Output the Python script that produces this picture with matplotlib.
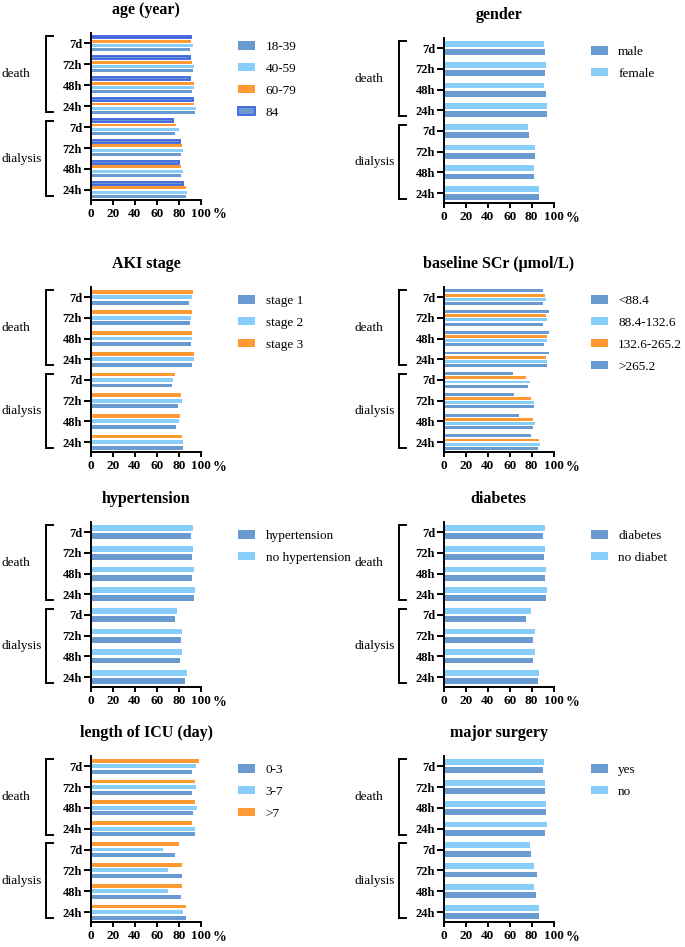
import matplotlib
matplotlib.use("Agg")
import matplotlib.pyplot as plt
import matplotlib.transforms as mtransforms
import numpy as np

plt.rcParams['font.family'] = ['Liberation Serif', 'DejaVu Serif']

# ---------------- data ----------------
categories = ["7d", "72h", "48h", "24h", "7d", "72h", "48h", "24h"]
groups = ["death", "dialysis"]

age_labels = ["18-39", "40-59", "60-79", "84"]
age_18_39 = [90.0, 92.7, 91.8, 94.8, 76.7, 81.8, 81.8, 86.7]
age_40_59 = [93.0, 94.0, 94.0, 95.8, 79.7, 83.9, 83.9, 87.6]
age_60_79 = [91.0, 91.8, 94.0, 94.0, 77.6, 82.7, 81.8, 86.7]
age_84 = [90.9, 89.7, 89.7, 92.7, 74.8, 80.9, 79.7, 83.9]

gender_labels = ["male", "female"]
gender_male = [92.1, 92.1, 93.0, 94.2, 77.8, 83.0, 82.0, 86.9]
gender_female = [91.2, 93.0, 91.2, 94.2, 76.9, 83.0, 82.0, 86.9]

aki_labels = ["stage 1", "stage 2", "stage 3"]
aki_stage1 = [88.8, 89.7, 90.9, 91.8, 73.6, 78.8, 77.6, 83.6]
aki_stage2 = [91.8, 90.9, 91.8, 94.0, 74.5, 82.7, 79.7, 83.6]
aki_stage3 = [92.7, 91.8, 91.8, 94.0, 76.7, 81.8, 80.9, 82.7]

scr_labels = ["<88.4", "88.4-132.6", "132.6-265.2", ">265.2"]
scr_lt88 = [90.0, 90.0, 91.2, 93.9, 76.9, 82.0, 81.2, 86.0]
scr_88_132 = [93.0, 93.9, 93.9, 93.9, 78.1, 82.0, 83.0, 88.1]
scr_132_265 = [92.1, 93.0, 93.9, 93.0, 75.0, 79.9, 81.2, 86.9]
scr_gt265 = [90.0, 96.0, 96.0, 96.0, 62.9, 64.1, 68.1, 79.9]

htn_labels = ["hypertension", "no hypertension"]
htn_yes = [90.9, 91.8, 91.8, 94.0, 76.7, 81.8, 80.6, 85.8]
htn_no = [92.7, 92.7, 94.0, 94.8, 78.5, 82.7, 82.7, 87.6]

dm_labels = ["diabetes", "no diabet"]
dm_yes = [90.0, 91.2, 92.1, 93.0, 75.0, 81.2, 81.2, 86.0]
dm_no = [92.1, 92.1, 93.0, 94.2, 79.0, 83.0, 83.0, 86.9]

icu_labels = ["0-3", "3-7", ">7"]
icu_0_3 = [91.8, 91.8, 92.7, 94.8, 76.7, 82.7, 81.8, 86.7]
icu_3_7 = [95.8, 95.8, 96.7, 94.8, 65.8, 69.7, 69.7, 83.6]
icu_gt7 = [97.9, 94.8, 94.8, 91.8, 79.7, 82.7, 82.7, 86.7]

surg_labels = ["yes", "no"]
surg_yes = [90.0, 92.1, 93.0, 92.1, 79.0, 85.1, 83.9, 86.9]
surg_no = [91.2, 92.1, 93.0, 94.2, 78.1, 82.0, 82.0, 86.9]

xticks = [0, 20, 40, 60, 80, 100]

# ---------------- styles ----------------
STEEL = "#6A9BD0"
LIGHT = "#87CEFA"
ORANGE = "#FF9933"
ROYAL = "#3F62E0"

W, H = 685, 947
fig = plt.figure(figsize=(W / 100, H / 100), dpi=100)

panels = [
    ("age (year)", age_labels, [age_18_39, age_40_59, age_60_79, age_84],
     [(STEEL, STEEL), (LIGHT, LIGHT), (ORANGE, ORANGE), (STEEL, ROYAL)], (91, 33, 201, 200)),
    ("gender", gender_labels, [gender_male, gender_female],
     [(STEEL, STEEL), (LIGHT, LIGHT)], (444, 38, 553.5, 203)),
    ("AKI stage", aki_labels, [aki_stage1, aki_stage2, aki_stage3],
     [(STEEL, STEEL), (LIGHT, LIGHT), (ORANGE, ORANGE)], (91, 287, 201, 452)),
    ("baseline SCr (\u03bcmol/L)", scr_labels, [scr_lt88, scr_88_132, scr_132_265, scr_gt265],
     [(STEEL, STEEL), (LIGHT, LIGHT), (ORANGE, ORANGE), (STEEL, STEEL)], (444, 287, 553.5, 452)),
    ("hypertension", htn_labels, [htn_yes, htn_no],
     [(STEEL, STEEL), (LIGHT, LIGHT)], (91, 522, 201, 687)),
    ("diabetes", dm_labels, [dm_yes, dm_no],
     [(STEEL, STEEL), (LIGHT, LIGHT)], (444, 522, 553.5, 687)),
    ("length of ICU (day)", icu_labels, [icu_0_3, icu_3_7, icu_gt7],
     [(STEEL, STEEL), (LIGHT, LIGHT), (ORANGE, ORANGE)], (91, 756, 201, 922)),
    ("major surgery", surg_labels, [surg_yes, surg_no],
     [(STEEL, STEEL), (LIGHT, LIGHT)], (444, 756, 553.5, 922)),
]

ypos = np.arange(len(categories))[::-1].astype(float)  # 7 ... 0

for title, labels, series, styles, (x0, y0, x1, y1) in panels:
    ax = fig.add_axes([x0 / W, 1 - y1 / H, (x1 - x0) / W, (y1 - y0) / H])
    n = len(series)
    pitch = 0.8 / n
    height = 0.7 * pitch
    handles = []
    for i, (vals, (fc, ec)) in enumerate(zip(series, styles)):
        off = (i - (n - 1) / 2) * pitch
        lw = 1.3 if ec != fc else 0.0
        b = ax.barh(ypos + off, vals, height=height, color=fc, edgecolor=ec,
                    linewidth=lw, label=labels[i])
        handles.append(b)
    ax.set_xlim(0, 100)
    ax.set_ylim(-0.48, 7.49)
    ax.set_xticks(xticks)
    ax.set_xticklabels([str(t) for t in xticks], fontsize=9.5, fontweight='bold')
    ax.set_yticks(ypos)
    ax.set_yticklabels(categories, fontsize=9, fontweight='bold')
    for s in ["top", "right"]:
        ax.spines[s].set_visible(False)
    for s in ["left", "bottom"]:
        ax.spines[s].set_linewidth(1.4)
    ax.tick_params(axis='y', length=5, width=1.4, pad=1.5)
    ax.tick_params(axis='x', length=3.5, width=1.4, pad=2.5)
    ax.annotate('%', xy=(1, 0), xycoords='axes fraction', xytext=(12, -15),
                textcoords='offset pixels', ha='left', va='center',
                fontsize=10, fontweight='bold')
    # title
    fig.text((x0 + x1) / 2 / W, 1 - (y0 - 23) / H, title, ha='center', va='center',
             fontsize=11.5, fontweight='bold')
    # group brackets
    tr = mtransforms.blended_transform_factory(ax.transAxes, ax.transData)
    bx = -45 / (x1 - x0)
    arm = 7 / (x1 - x0)
    for gname, (lo, hi) in zip(groups, [(3.7, 7.35), (-0.3, 3.3)]):
        ax.plot([bx + arm, bx, bx, bx + arm], [hi, hi, lo, lo], transform=tr,
                color='black', lw=1.4, clip_on=False, solid_joinstyle='miter')
        ax.text(-89.5 / (x1 - x0), (lo + hi) / 2, gname, transform=tr, ha='left',
                va='center', fontsize=9.5)
    # legend
    leg = ax.legend(handles=handles, loc='upper left',
                    bbox_to_anchor=((x1 + 37) / W, 1 - (y0 + 8) / H),
                    bbox_transform=fig.transFigure, frameon=False, fontsize=9.5,
                    handlelength=1.3, handleheight=0.6, handletextpad=0.8,
                    labelspacing=0.75, borderpad=0, borderaxespad=0)

fig.savefig("out.png", dpi=100)
